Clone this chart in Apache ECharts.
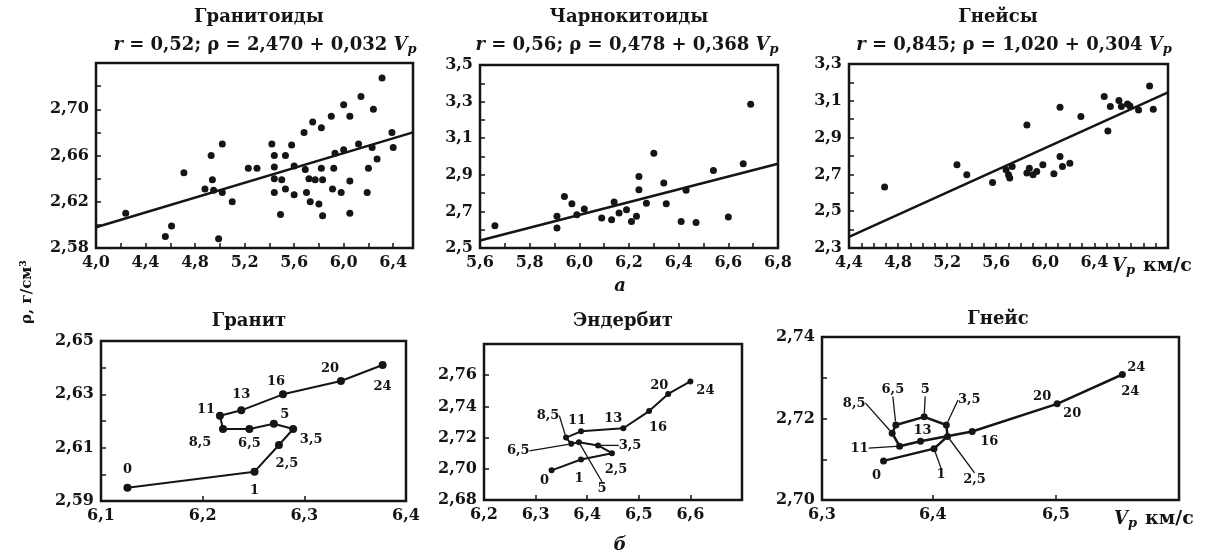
<!DOCTYPE html>
<html>
<head>
<meta charset="utf-8">
<script src="https://cdn.jsdelivr.net/npm/echarts@6/dist/echarts.min.js"></script>
<style>html,body{margin:0;padding:0;background:#fff}#main{width:1227px;height:558px}</style>
</head>
<body>
<div id="main"></div>
<script>
// а: Vp (км/с) and ρ (г/см3) of the samples
const granitoidVp = [4.24,4.56,4.61,4.71,4.88,4.93,4.94,4.95,4.99,5.02,5.02,5.10,5.23,5.30,5.42,5.44,5.44,5.44,5.44,5.50,5.49,5.53,5.53,5.58,5.60,5.60,5.68,5.69,5.70,5.72,5.73,5.75,5.77,5.80,5.82,5.82,5.83,5.83,5.90,5.91,5.92,5.93,5.98,6.00,6.00,6.05,6.05,6.05,6.12,6.14,6.19,6.20,6.23,6.24,6.27,6.31,6.39,6.40];
const granitoidRho = [2.610,2.590,2.599,2.645,2.631,2.660,2.639,2.630,2.588,2.670,2.628,2.620,2.649,2.649,2.670,2.660,2.650,2.640,2.628,2.639,2.609,2.631,2.660,2.669,2.651,2.626,2.680,2.648,2.628,2.640,2.620,2.689,2.639,2.618,2.684,2.649,2.639,2.608,2.694,2.631,2.649,2.662,2.628,2.704,2.665,2.694,2.638,2.610,2.670,2.711,2.628,2.649,2.667,2.700,2.657,2.727,2.680,2.667];
const granitoidFitVp = [4.0, 6.56];
const granitoidFitRho = [2.598, 2.680];

const charnockitoidVp = [5.66,5.91,5.91,5.94,5.97,5.99,6.02,6.09,6.13,6.14,6.16,6.19,6.21,6.23,6.24,6.24,6.27,6.30,6.34,6.35,6.41,6.43,6.47,6.54,6.60,6.66,6.69];
const charnockitoidRho = [2.622,2.673,2.609,2.782,2.742,2.682,2.713,2.664,2.655,2.751,2.691,2.709,2.645,2.673,2.891,2.818,2.745,3.018,2.855,2.742,2.645,2.815,2.640,2.924,2.669,2.960,3.285];
const charnockitoidFitVp = [5.6, 6.8];
const charnockitoidFitRho = [2.541, 2.960];

const gneissesVp = [4.69,5.28,5.36,5.57,5.68,5.70,5.71,5.73,5.85,5.85,5.87,5.90,5.93,5.98,6.07,6.12,6.12,6.14,6.20,6.29,6.48,6.51,6.53,6.60,6.62,6.67,6.69,6.76,6.85,6.88];
const gneissesRho = [2.631,2.752,2.698,2.656,2.725,2.698,2.680,2.743,2.969,2.707,2.734,2.698,2.716,2.752,2.703,3.065,2.797,2.743,2.761,3.014,3.123,2.936,3.069,3.101,3.069,3.083,3.072,3.050,3.181,3.054];
const gneissesFitVp = [4.4, 7.0];
const gneissesFitRho = [2.360, 3.146];

// б: step marks along each path
const stepLabels = ['0','1','2,5','3,5','5','6,5','8,5','11','13','16','20','24'];
const graniteVp  = [6.126,6.251,6.275,6.289,6.270,6.246,6.220,6.217,6.238,6.279,6.336,6.377];
const graniteRho = [2.595,2.601,2.611,2.617,2.619,2.617,2.617,2.622,2.624,2.630,2.635,2.641];
const enderbiteVp  = [6.331,6.388,6.448,6.421,6.384,6.369,6.359,6.388,6.470,6.520,6.557,6.600];
const enderbiteRho = [2.699,2.706,2.710,2.715,2.717,2.716,2.720,2.724,2.726,2.737,2.748,2.756];
const gneissVp  = [6.360,6.401,6.412,6.411,6.393,6.370,6.367,6.373,6.390,6.432,6.501,6.554];
const gneissRho = [2.7096,2.7126,2.7156,2.7184,2.7204,2.7184,2.7164,2.7132,2.7144,2.7168,2.7236,2.7308];
// second set of labels on the Гнейс path
const gneissExtraIdx = [10, 11];
const gneissExtraText = ['20', '24'];

// tick labels
const x1Labels = [4.0,4.4,4.8,5.2,5.6,6.0,6.4];
const y1Labels = [2.58,2.62,2.66,2.70];
const x2Labels = [5.6,5.8,6.0,6.2,6.4,6.6,6.8];
const y2Labels = [2.5,2.7,2.9,3.1,3.3,3.5];
const x3Labels = [4.4,4.8,5.2,5.6,6.0,6.4];
const y3Labels = [2.3,2.5,2.7,2.9,3.1,3.3];
const x4Labels = [6.1,6.2,6.3,6.4];
const y4Labels = [2.59,2.61,2.63,2.65];
const x5Labels = [6.2,6.3,6.4,6.5,6.6];
const y5Labels = [2.68,2.70,2.72,2.74,2.76];
const x6Labels = [6.31,6.4,6.5];
const y6Labels = [2.70,2.72,2.74];

const INK = '#151515';
const SERIF = '"DejaVu Serif", "Liberation Serif", serif';

function zip(a, b) { return a.map((v, i) => [v, b[i]]); }

function axis(gi, min, max, step, labels, dec, extra) {
    let a = {
        type: 'value', gridIndex: gi, min: min, max: max, interval: step,
        axisLine: {show: false}, splitLine: {show: false},
        axisTick: {show: true, inside: true, length: 5, lineStyle: {color: INK, width: 1.5}},
        axisLabel: {
            color: INK, fontFamily: SERIF, fontWeight: 'bold', fontSize: 16, margin: 7,
            formatter: function (v) {
                return labels.some(l => Math.abs(l - v) < 1e-6) ? v.toFixed(dec).replace('.', ',') : '';
            }
        }
    };
    if (extra) {
        a.axisTick = Object.assign(a.axisTick, extra.axisTick);
        a.axisLabel = Object.assign(a.axisLabel, extra.axisLabel);
    }
    return a;
}

function grid(left, top, width, height) {
    return {left: left, top: top, width: width, height: height, show: true,
        borderColor: INK, borderWidth: 2.5, backgroundColor: 'transparent', outerBoundsMode: 'none'};
}

function cloud(gi, xs, ys) {
    return {type: 'scatter', xAxisIndex: gi, yAxisIndex: gi, data: zip(xs, ys),
        symbolSize: 7, itemStyle: {color: INK, opacity: 1}, z: 3};
}
function fit(gi, xs, ys) {
    return {type: 'line', xAxisIndex: gi, yAxisIndex: gi, data: zip(xs, ys),
        showSymbol: false, symbol: 'none', lineStyle: {color: INK, width: 2.5}, z: 2};
}
function path(gi, xs, ys, width) {
    return {type: 'line', xAxisIndex: gi, yAxisIndex: gi, data: zip(xs, ys),
        showSymbol: false, symbol: 'none', lineStyle: {color: INK, width: width}, z: 2};
}
// points with step labels; offs moves every label, leaders get a guide line
function steps(gi, xs, ys, texts, size, offs, leaders) {
    return {
        type: 'scatter', xAxisIndex: gi, yAxisIndex: gi, symbolSize: size, z: 4,
        itemStyle: {color: INK, opacity: 1},
        data: xs.map((x, i) => ({
            value: [x, ys[i]],
            label: {formatter: texts[i]},
            labelLine: {show: leaders.indexOf(i) >= 0, lineStyle: {color: INK, width: 1.3}}
        })),
        label: {show: true, position: 'inside', color: INK, fontFamily: SERIF, fontWeight: 'bold', fontSize: 13,
            textBorderWidth: 0, textBorderColor: 'transparent'},
        labelLayout: function (p) { return {dx: offs[p.dataIndex][0], dy: offs[p.dataIndex][1]}; }
    };
}

const rich = {
    i: {fontFamily: SERIF, fontWeight: 'bold', fontStyle: 'italic', fontSize: 18, color: INK},
    s: {fontFamily: SERIF, fontWeight: 'bold', fontStyle: 'italic', fontSize: 13, color: INK, padding: [9, 0, 0, 0]},
    k: {fontFamily: SERIF, fontWeight: 'bold', fontSize: 19, color: INK, padding: [0, 0, 0, 8]}
};
function title(text, left, top, align) {
    return {text: text, left: left, top: top, textAlign: align || 'center', padding: 0,
        textStyle: {fontFamily: SERIF, fontWeight: 'bold', fontSize: 18, color: INK, rich: rich}};
}

let myChart = echarts.init(document.getElementById('main'));
let option = {
    animation: false,
    backgroundColor: '#fff',
    title: [
        title('Гранитоиды', 259, 8),
        title('{i|r} = 0,52; ρ = 2,470 + 0,032 {i|V}{s|p}', 265, 34),
        title('Чарнокитоиды', 629, 8),
        title('{i|r} = 0,56; ρ = 0,478 + 0,368 {i|V}{s|p}', 627, 34),
        title('Гнейсы', 998, 8),
        title('{i|r} = 0,845; ρ = 1,020 + 0,304 {i|V}{s|p}', 1014, 34),
        title('{i|V}{s|p}{k|км/с}', 1112, 255, 'left'),
        title('{i|а}', 620, 277),
        title('Гранит', 249, 312),
        title('Эндербит', 623, 312),
        title('Гнейс', 998, 310),
        title('{i|V}{s|p}{k|км/с}', 1114, 508, 'left'),
        title('{i|б}', 620, 536)
    ],
    graphic: [{
        type: 'text', x: 27, y: 292, rotation: Math.PI / 2,
        style: {text: 'ρ, г/см³', font: 'bold 15px "DejaVu Serif"', fill: INK, align: 'center', verticalAlign: 'middle'}
    }],
    grid: [
        grid(96, 63, 317, 185),
        grid(480, 65, 298, 183),
        grid(849, 64, 319, 184),
        grid(101, 341, 305, 160),
        grid(484, 344, 258, 156),
        grid(822, 337, 357, 163)
    ],
    xAxis: [
        axis(0, 4.0, 6.56, 0.2, x1Labels, 1),
        axis(1, 5.6, 6.8, 0.1, x2Labels, 1),
        axis(2, 4.4, 7.0, 0.1, x3Labels, 1),
        axis(3, 6.1, 6.4, 0.1, x4Labels, 1),
        axis(4, 6.2, 6.7, 0.1, x5Labels, 1),
        axis(5, 6.31, 6.6, 0.1, x6Labels, 1, {
            axisTick: {customValues: [6.4, 6.5]},
            axisLabel: {customValues: x6Labels}
        })
    ],
    yAxis: [
        axis(0, 2.58, 2.74, 0.02, y1Labels, 2),
        axis(1, 2.5, 3.5, 0.1, y2Labels, 1),
        axis(2, 2.3, 3.3, 0.1, y3Labels, 1),
        axis(3, 2.59, 2.65, 0.01, y4Labels, 2),
        axis(4, 2.68, 2.78, 0.02, y5Labels, 2),
        axis(5, 2.70, 2.74, 0.01, y6Labels, 2)
    ],
    series: [
        cloud(0, granitoidVp, granitoidRho),
        fit(0, granitoidFitVp, granitoidFitRho),
        cloud(1, charnockitoidVp, charnockitoidRho),
        fit(1, charnockitoidFitVp, charnockitoidFitRho),
        cloud(2, gneissesVp, gneissesRho),
        fit(2, gneissesFitVp, gneissesFitRho),

        path(3, graniteVp, graniteRho, 2),
        steps(3, graniteVp, graniteRho, stepLabels, 8,
            [[0,-18],[0,19],[8,19],[18,11],[11,-9],[0,15],[-23,14],[-14,-6],[0,-16],[-7,-13],[-11,-12],[0,22]], []),

        path(4, enderbiteVp, enderbiteRho, 2),
        steps(4, enderbiteVp, enderbiteRho, stepLabels, 6,
            [[-7,10],[-2,19],[4,16],[32,0],[23,46],[-53,7],[-18,-22],[-4,-11],[-10,-10],[9,17],[-9,-8],[15,9]], [3,4,5,6]),

        path(5, gneissVp, gneissRho, 2.5),
        steps(5, gneissVp, gneissRho, stepLabels, 7,
            [[-7,15],[7,26],[27,43],[23,-25],[1,-27],[-3,-35],[-38,-30],[-40,2],[2,-11],[17,10],[-15,-7],[14,-7]], [1,2,3,4,5,6,7]),
        steps(5, gneissExtraIdx.map(i => gneissVp[i]), gneissExtraIdx.map(i => gneissRho[i]), gneissExtraText, 1,
            [[15,10],[8,17]], [])
    ]
};
option && myChart.setOption(option);
</script>
</body>
</html>
